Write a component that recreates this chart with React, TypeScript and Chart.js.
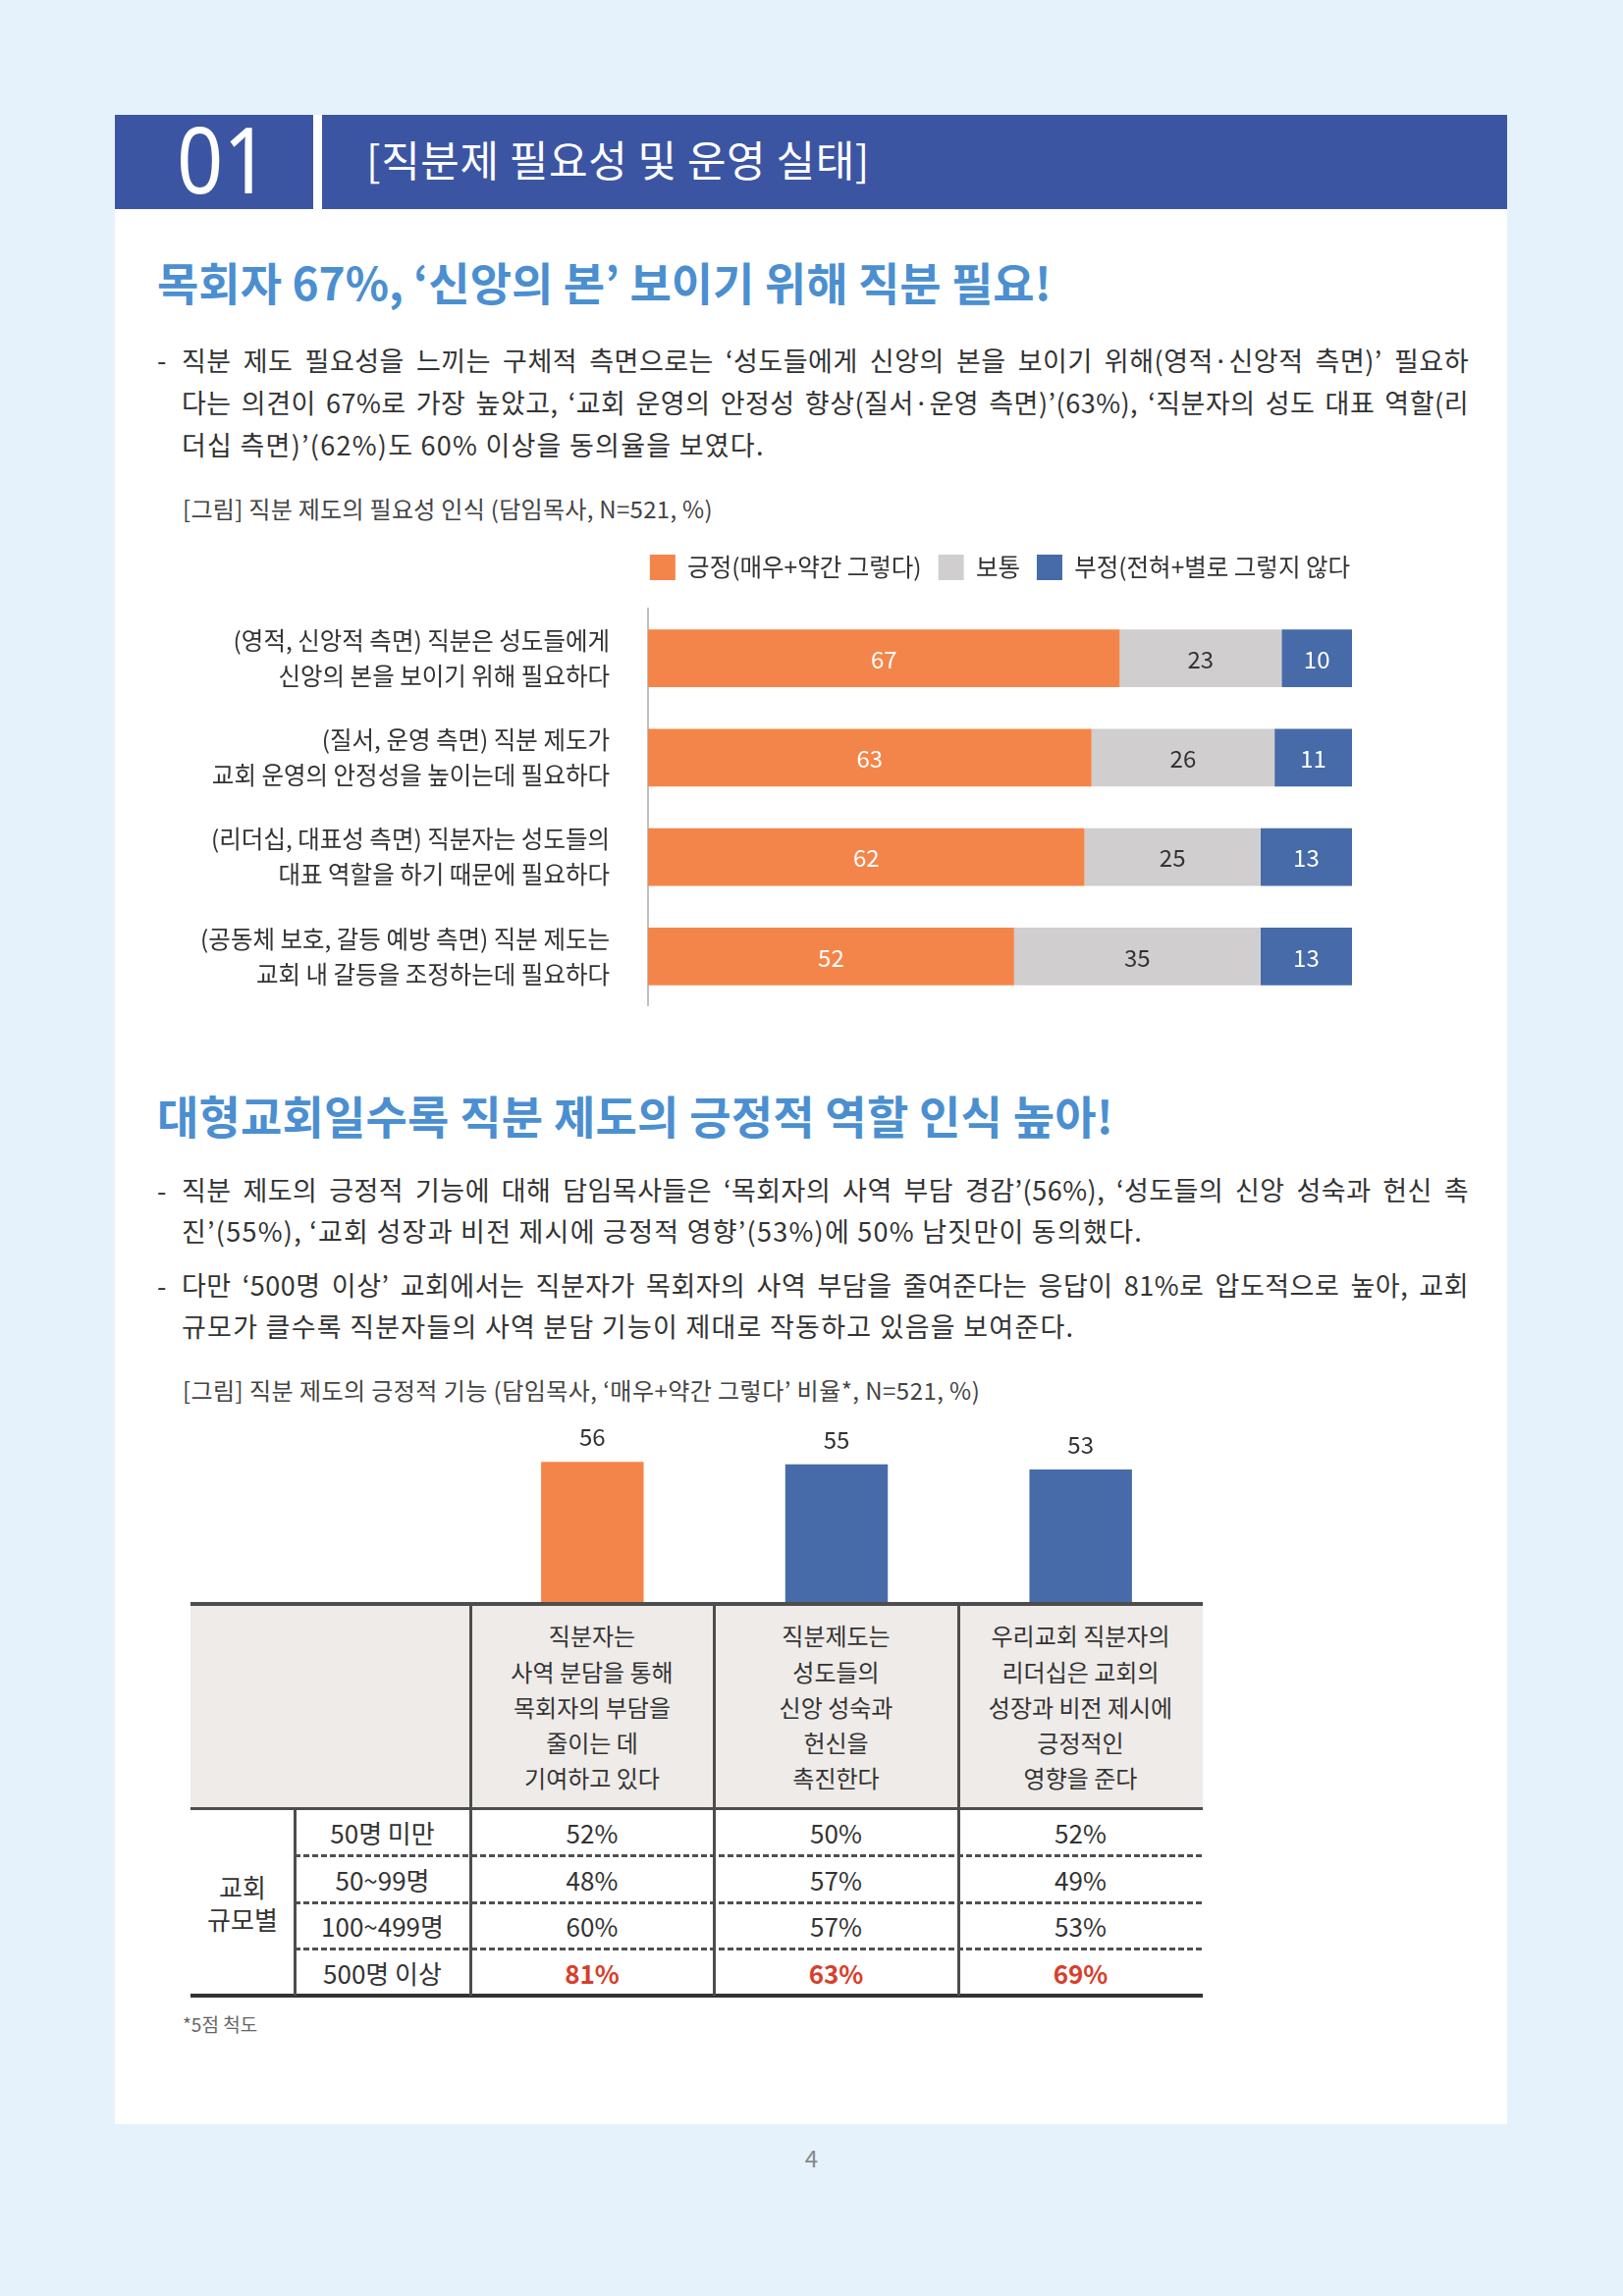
import React, { useEffect, useRef } from 'react';
import { Chart, registerables } from 'chart.js';

Chart.register(...registerables);

// ---------- data ----------
const needCategories: string[][] = [
  ['(영적, 신앙적 측면) 직분은 성도들에게', '신앙의 본을 보이기 위해 필요하다'],
  ['(질서, 운영 측면) 직분 제도가', '교회 운영의 안정성을 높이는데 필요하다'],
  ['(리더십, 대표성 측면) 직분자는 성도들의', '대표 역할을 하기 때문에 필요하다'],
  ['(공동체 보호, 갈등 예방 측면) 직분 제도는', '교회 내 갈등을 조정하는데 필요하다'],
];
const needSeriesNames = ['긍정(매우+약간 그렇다)', '보통', '부정(전혀+별로 그렇지 않다'];
const positiveValues = [67, 63, 62, 52];
const neutralValues = [23, 26, 25, 35];
const negativeValues = [10, 11, 13, 13];

const functionHeaders: string[][] = [
  ['직분자는', '사역 분담을 통해', '목회자의 부담을', '줄이는 데', '기여하고 있다'],
  ['직분제도는', '성도들의', '신앙 성숙과', '헌신을', '촉진한다'],
  ['우리교회 직분자의', '리더십은 교회의', '성장과 비전 제시에', '긍정적인', '영향을 준다'],
];
const functionValues = [56, 55, 53];
const sizeGroups = ['50명 미만', '50~99명', '100~499명', '500명 이상'];
const sizeCol1 = [52, 48, 60, 81];
const sizeCol2 = [50, 57, 57, 63];
const sizeCol3 = [52, 49, 53, 69];

// ---------- styles ----------
const FONT = '"Noto Sans CJK KR", "Noto Sans", sans-serif';
const ORANGE = '#f4854a';
const GRAY = '#d0cece';
const BLUE = '#466ba8';
const HEAD_BLUE = '#3c55a3';
const TITLE_BLUE = '#4b8fd0';
const TEXT = '#333333';
const SEG_LABEL_COLORS = ['#ffffff', '#333333', '#ffffff'];

const LEGEND_GAP = 19;
const LEGEND_SHIFT = 15;

const legendTweak = {
  id: 'legendTweak',
  beforeUpdate(chart: any) {
    const lg = chart.legend;
    if (lg && !lg.__patched) {
      const fit = lg.fit.bind(lg);
      lg.fit = () => {
        fit();
        lg.height += LEGEND_GAP;
      };
      lg.__patched = true;
    }
  },
  afterLayout(chart: any) {
    const lg = chart.legend;
    if (lg) {
      lg.left += LEGEND_SHIFT;
      lg.right += LEGEND_SHIFT;
    }
  },
};

const segLabels = {
  id: 'segLabels',
  afterDatasetsDraw(chart: any) {
    const ctx = chart.ctx;
    chart.data.datasets.forEach((ds: any, i: number) => {
      const meta = chart.getDatasetMeta(i);
      meta.data.forEach((bar: any, j: number) => {
        const { x, y, base } = bar.getProps(['x', 'y', 'base'], true);
        ctx.save();
        ctx.fillStyle = SEG_LABEL_COLORS[i];
        ctx.font = `24px ${FONT}`;
        ctx.textAlign = 'center';
        ctx.textBaseline = 'middle';
        ctx.fillText(String(ds.data[j]), (x + base) / 2, y + 1);
        ctx.restore();
      });
    });
  },
};

const topLabels = {
  id: 'topLabels',
  afterDatasetsDraw(chart: any) {
    const ctx = chart.ctx;
    const meta = chart.getDatasetMeta(0);
    const ds = chart.data.datasets[0];
    meta.data.forEach((bar: any, j: number) => {
      const { x, y } = bar.getProps(['x', 'y'], true);
      ctx.save();
      ctx.fillStyle = TEXT;
      ctx.font = `24px ${FONT}`;
      ctx.textAlign = 'center';
      ctx.textBaseline = 'middle';
      ctx.fillText(String(ds.data[j]), x, y - 25);
      ctx.restore();
    });
  },
};

function NeedChart() {
  const ref = useRef<HTMLCanvasElement>(null);
  useEffect(() => {
    if (!ref.current) return;
    const chart = new Chart(ref.current, {
      type: 'bar',
      data: {
        labels: needCategories as any,
        datasets: [
          { label: needSeriesNames[0], data: positiveValues, backgroundColor: ORANGE },
          { label: needSeriesNames[1], data: neutralValues, backgroundColor: GRAY },
          { label: needSeriesNames[2], data: negativeValues, backgroundColor: BLUE },
        ],
      },
      options: {
        indexAxis: 'y',
        responsive: false,
        animation: false,
        layout: { padding: { top: 0, right: 5, bottom: 0, left: 0 } },
        datasets: { bar: { barPercentage: 0.58, categoryPercentage: 1 } } as any,
        scales: {
          x: { stacked: true, min: 0, max: 100, display: false },
          y: {
            stacked: true,
            grid: { display: false, drawTicks: false },
            border: { display: true, color: '#bfbfbf', width: 2 },
            ticks: {
              color: TEXT,
              padding: 39,
              font: { family: FONT, size: 24.5, lineHeight: 1.47 },
            },
            afterFit: (s: any) => {
              s.width = 500;
              s.paddingTop = 0;
              s.paddingBottom = 0;
            },
          },
        },
        plugins: {
          legend: {
            position: 'top',
            align: 'end',
            labels: {
              boxWidth: 26,
              boxHeight: 26,
              padding: 17,
              color: TEXT,
              font: { family: FONT, size: 24.5 },
            },
          },
          tooltip: { enabled: false },
        },
      } as any,
      plugins: [legendTweak, segLabels],
    });
    return () => chart.destroy();
  }, []);
  return (
    <canvas
      ref={ref}
      width={1222}
      height={477}
      style={{ position: 'absolute', left: 160, top: 548, width: 1222, height: 477 }}
    />
  );
}

function FunctionChart() {
  const ref = useRef<HTMLCanvasElement>(null);
  useEffect(() => {
    if (!ref.current) return;
    const chart = new Chart(ref.current, {
      type: 'bar',
      data: {
        labels: functionHeaders.map((h) => h.join(' ')),
        datasets: [
          {
            data: functionValues,
            backgroundColor: [ORANGE, BLUE, BLUE],
            barPercentage: 0.42,
            categoryPercentage: 1,
          },
        ],
      },
      options: {
        responsive: false,
        animation: false,
        layout: { padding: 0 },
        scales: {
          x: { display: false },
          y: { display: false, min: 0, max: 75 },
        },
        plugins: { legend: { display: false }, tooltip: { enabled: false } },
      } as any,
      plugins: [topLabels],
    });
    return () => chart.destroy();
  }, []);
  return (
    <canvas
      ref={ref}
      width={746}
      height={194}
      style={{ position: 'absolute', left: 479, top: 1440, width: 746, height: 194 }}
    />
  );
}

type TLProps = {
  x: number;
  cy: number;
  size: number;
  lh?: number;
  color?: string;
  weight?: number;
  width?: number;
  justify?: boolean;
  family?: string;
  ls?: number;
  children: React.ReactNode;
};

function TL({ x, cy, size, lh, color = TEXT, weight = 400, width, justify, family = FONT, ls = 0, children }: TLProps) {
  const L = lh ?? Math.round(size * 1.5);
  return (
    <div
      style={{
        position: 'absolute',
        left: x,
        top: cy - L / 2 - 0.06 * size,
        width,
        fontFamily: family,
        fontSize: size,
        lineHeight: `${L}px`,
        color,
        fontWeight: weight,
        letterSpacing: ls,
        textAlign: justify ? 'justify' : 'left',
        textAlignLast: justify ? 'justify' : 'auto',
        whiteSpace: justify ? 'normal' : 'nowrap',
      } as React.CSSProperties}
    >
      {children}
    </div>
  );
}

const BODY = 27;
const BODY_LS = 1.25;
const JUST_LS = 0.5;
const BODY_COLOR = '#333333';

function Box(props: { l: number; t: number; w: number; h: number; bg: string }) {
  return (
    <div style={{ position: 'absolute', left: props.l, top: props.t, width: props.w, height: props.h, background: props.bg }} />
  );
}

function Dashed(props: { l: number; t: number; w: number }) {
  return (
    <div
      style={{
        position: 'absolute',
        left: props.l,
        top: props.t,
        width: props.w,
        height: 3,
        background: 'repeating-linear-gradient(to right, #505050 0px, #505050 6px, transparent 6px, transparent 9px)',
      }}
    />
  );
}

function Table() {
  const colX = [194, 300, 479, 727, 976, 1225];
  const rowY = [1634, 1842, 1890, 1938, 1985, 2033];
  const cols = [sizeCol1, sizeCol2, sizeCol3];
  const cells: React.ReactNode[] = [];
  functionHeaders.forEach((lines, c) => {
    cells.push(
      <div
        key={`h${c}`}
        style={{
          position: 'absolute',
          left: colX[c + 2],
          top: rowY[0] + 2,
          width: colX[c + 3] - colX[c + 2],
          height: rowY[1] - rowY[0] - 2,
          display: 'flex',
          flexDirection: 'column',
          alignItems: 'center',
          justifyContent: 'center',
          fontFamily: FONT,
          fontSize: 24,
          lineHeight: '36.2px',
          color: TEXT,
          textAlign: 'center',
        }}
      >
        {lines.map((ln, i) => (
          <div key={i} style={{ whiteSpace: 'nowrap' }}>{ln}</div>
        ))}
      </div>
    );
  });
  sizeGroups.forEach((g, r) => {
    const top = rowY[r + 1];
    const h = rowY[r + 2] - rowY[r + 1];
    const isLast = r === sizeGroups.length - 1;
    cells.push(
      <div
        key={`g${r}`}
        style={{
          position: 'absolute', left: colX[1], top, width: colX[2] - colX[1], height: h,
          display: 'flex', alignItems: 'center', justifyContent: 'center',
          fontFamily: FONT, fontSize: 26, color: TEXT, whiteSpace: 'nowrap',
        }}
      >
        {g}
      </div>
    );
    cols.forEach((col, c) => {
      cells.push(
        <div
          key={`v${r}-${c}`}
          style={{
            position: 'absolute', left: colX[c + 2], top, width: colX[c + 3] - colX[c + 2], height: h,
            display: 'flex', alignItems: 'center', justifyContent: 'center',
            fontFamily: FONT, fontSize: 26,
            color: isLast ? '#d6402c' : TEXT,
            fontWeight: isLast ? 700 : 400,
          }}
        >
          {col[r]}%
        </div>
      );
    });
  });
  return (
    <>
      <Box l={colX[0]} t={rowY[0]} w={colX[5] - colX[0]} h={rowY[1] - rowY[0]} bg="#eeebe8" />
      {cells}
      <div
        style={{
          position: 'absolute', left: colX[0], top: rowY[1], width: colX[1] - colX[0], height: rowY[5] - rowY[1],
          display: 'flex', flexDirection: 'column', alignItems: 'center', justifyContent: 'center',
          fontFamily: FONT, fontSize: 26, lineHeight: '33px', color: TEXT,
        }}
      >
        <div>교회</div>
        <div>규모별</div>
      </div>
      <Box l={colX[0]} t={rowY[0] - 2} w={colX[5] - colX[0]} h={4} bg="#4d4d4d" />
      <Box l={colX[0]} t={rowY[1] - 1} w={colX[5] - colX[0]} h={3} bg="#4d4d4d" />
      {[2, 3, 4].map((i) => (
        <Dashed key={i} l={colX[1]} t={rowY[i] - 1} w={colX[5] - colX[1]} />
      ))}
      <Box l={colX[0]} t={rowY[5] - 2} w={colX[5] - colX[0]} h={4} bg="#333333" />
      <Box l={colX[1] - 1} t={rowY[1]} w={3} h={rowY[5] - rowY[1]} bg="#4d4d4d" />
      {[2, 3, 4].map((i) => (
        <Box key={i} l={colX[i] - 1} t={rowY[0]} w={3} h={rowY[5] - rowY[0]} bg="#4d4d4d" />
      ))}
    </>
  );
}

export default function App() {
  return (
    <div
      style={{
        position: 'absolute',
        left: 0,
        top: 0,
        width: 1653,
        height: 2339,
        background: '#e6f2fb',
        overflow: 'hidden',
        fontFamily: FONT,
      }}
    >
      <Box l={117} t={117} w={1418} h={2047} bg="#ffffff" />
      <Box l={117} t={117} w={202} h={96} bg={HEAD_BLUE} />
      <Box l={328} t={117} w={1207} h={96} bg={HEAD_BLUE} />
      <div
        style={{
          position: 'absolute',
          left: 180,
          top: 114,
          fontFamily: '"Noto Sans", sans-serif',
          fontSize: 94,
          lineHeight: '94px',
          color: '#ffffff',
          transform: 'scaleX(0.88)',
          transformOrigin: 'left center',
        }}
      >
        01
      </div>
      <TL x={373} cy={164} size={43} ls={0.6} color="#ffffff">[직분제 필요성 및 운영 실태]</TL>

      <TL x={160} cy={289} size={46} weight={700} color={TITLE_BLUE}>
        목회자 67%, ‘신앙의 본’ 보이기 위해 직분 필요!
      </TL>

      <TL x={160} cy={368} size={BODY} color={BODY_COLOR}>-</TL>
      <TL x={185} cy={368} size={BODY} lh={43} ls={JUST_LS} width={1311} justify color={BODY_COLOR}>
        직분 제도 필요성을 느끼는 구체적 측면으로는 ‘성도들에게 신앙의 본을 보이기 위해(영적·신앙적 측면)’ 필요하
      </TL>
      <TL x={185} cy={411} size={BODY} lh={43} ls={JUST_LS} width={1311} justify color={BODY_COLOR}>
        다는 의견이 67%로 가장 높았고, ‘교회 운영의 안정성 향상(질서·운영 측면)’(63%), ‘직분자의 성도 대표 역할(리
      </TL>
      <TL x={185} cy={454} size={BODY} lh={43} ls={BODY_LS} color={BODY_COLOR}>
        더십 측면)’(62%)도 60% 이상을 동의율을 보였다.
      </TL>

      <TL x={186} cy={519} size={24} ls={0.3} color="#444444">[그림] 직분 제도의 필요성 인식 (담임목사, N=521, %)</TL>

      <NeedChart />

      <TL x={160} cy={1138} size={46} weight={700} ls={0.2} color={TITLE_BLUE}>
        대형교회일수록 직분 제도의 긍정적 역할 인식 높아!
      </TL>

      <TL x={160} cy={1214} size={BODY} color={BODY_COLOR}>-</TL>
      <TL x={185} cy={1214} size={BODY} lh={42} ls={JUST_LS} width={1311} justify color={BODY_COLOR}>
        직분 제도의 긍정적 기능에 대해 담임목사들은 ‘목회자의 사역 부담 경감’(56%), ‘성도들의 신앙 성숙과 헌신 촉
      </TL>
      <TL x={185} cy={1256} size={BODY} lh={42} ls={BODY_LS} color={BODY_COLOR}>
        진’(55%), ‘교회 성장과 비전 제시에 긍정적 영향’(53%)에 50% 남짓만이 동의했다.
      </TL>
      <TL x={160} cy={1311} size={BODY} color={BODY_COLOR}>-</TL>
      <TL x={185} cy={1311} size={BODY} lh={42} ls={JUST_LS} width={1311} justify color={BODY_COLOR}>
        다만 ‘500명 이상’ 교회에서는 직분자가 목회자의 사역 부담을 줄여준다는 응답이 81%로 압도적으로 높아, 교회
      </TL>
      <TL x={185} cy={1353} size={BODY} lh={42} ls={BODY_LS} color={BODY_COLOR}>
        규모가 클수록 직분자들의 사역 분담 기능이 제대로 작동하고 있음을 보여준다.
      </TL>

      <TL x={186} cy={1417} size={24} ls={0.45} color="#444444">
        [그림] 직분 제도의 긍정적 기능 (담임목사, ‘매우+약간 그렇다’ 비율*, N=521, %)
      </TL>

      <FunctionChart />
      <Table />

      <TL x={186} cy={2063} size={19} color="#666666">*5점 척도</TL>

      <div
        style={{
          position: 'absolute',
          left: 0,
          width: 1653,
          top: 2198 - 18,
          textAlign: 'center',
          fontFamily: FONT,
          fontSize: 24,
          lineHeight: '36px',
          color: '#888888',
        }}
      >
        4
      </div>
    </div>
  );
}
